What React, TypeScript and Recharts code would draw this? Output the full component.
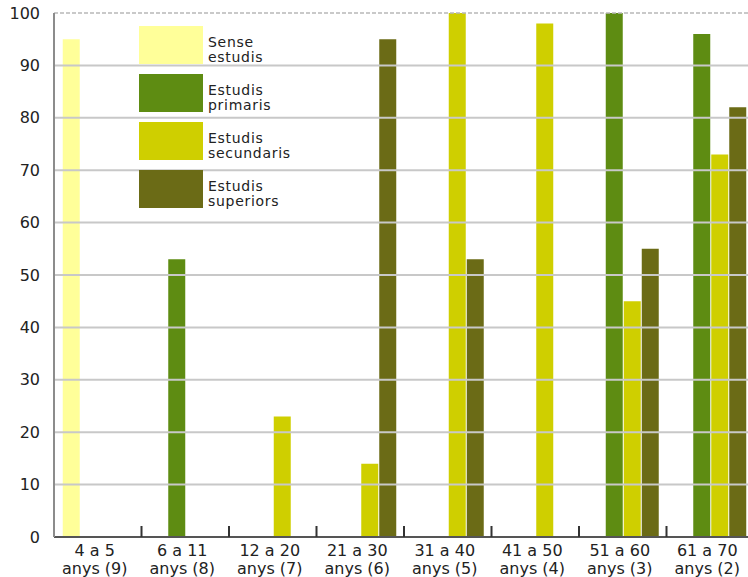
import { Bar, BarChart, ReferenceLine, XAxis, YAxis } from "recharts";

// Age groups along the x axis, with the number of people in each group.
const ageRanges = ["4 a 5", "6 a 11", "12 a 20", "21 a 30", "31 a 40", "41 a 50", "51 a 60", "61 a 70"];
const groupSizes = [9, 8, 7, 6, 5, 4, 3, 2];

// Percentages per level of studies.
const senseEstudis = [95, 0, 0, 0, 0, 0, 0, 0];
const estudisPrimaris = [0, 53, 0, 0, 0, 0, 100, 96];
const estudisSecundaris = [0, 0, 23, 14, 100, 98, 45, 73];
const estudisSuperiors = [0, 0, 0, 95, 53, 0, 55, 82];

const yTicks = [0, 10, 20, 30, 40, 50, 60, 70, 80, 90, 100];

const series = [
  { key: "sense", label: ["Sense", "estudis"], color: "#ffff99" },
  { key: "primaris", label: ["Estudis", "primaris"], color: "#5e8c12" },
  { key: "secundaris", label: ["Estudis", "secundaris"], color: "#cfcf00" },
  { key: "superiors", label: ["Estudis", "superiors"], color: "#6b6b16" },
];

const data = ageRanges.map((range, i) => ({
  name: `${range}\nanys (${groupSizes[i]})`,
  sense: senseEstudis[i],
  primaris: estudisPrimaris[i],
  secundaris: estudisSecundaris[i],
  superiors: estudisSuperiors[i],
}));

const FONT = "'DejaVu Sans', Verdana, sans-serif";
const CHART_W = 756;
const PLOT_W = CHART_W - 54 - 2;
const BAND_HALF = PLOT_W / ageRanges.length / 2;

// Two-line category label plus a small divider tick on the left edge of each band.
// y arrives 2px below the axis line (tickMargin).
function AgeTick({ x, y, payload, index }: any) {
  const [first, second] = String(payload.value).split("\n");
  const half = payload.offset || BAND_HALF;
  return (
    <g>
      {index > 0 && <rect x={x - half - 1} y={y - 13} width={2} height={11} fill="#333" />}
      <text textAnchor="middle" fontFamily={FONT} fontSize={16} fill="#222">
        <tspan x={x - 3} y={y + 17}>{first}</tspan>
        <tspan x={x - 3} y={y + 35}>{second}</tspan>
      </text>
    </g>
  );
}

function LegendBox() {
  return (
    <div style={{ position: "absolute", left: 139, top: 25, fontFamily: FONT }}>
      {series.map((s, i) => (
        <div key={s.key} style={{ display: "flex", alignItems: "center", marginTop: i === 0 ? 0 : 8 }}>
          <div style={{ width: 64, height: 38, background: s.color }} />
          <div
            style={{
              marginLeft: 5,
              marginTop: 10,
              fontSize: 14,
              lineHeight: "15px",
              letterSpacing: 0.7,
              color: "#222",
            }}
          >
            {s.label[0]}
            <br />
            {s.label[1]}
          </div>
        </div>
      ))}
    </div>
  );
}

export default function App() {
  return (
    <div
      style={{
        position: "absolute",
        left: 0,
        top: 0,
        width: 748,
        height: 577,
        overflow: "hidden",
        background: "#fff",
      }}
    >
      <div style={{ position: "relative", width: CHART_W, height: 577 }}>
        <BarChart
          width={CHART_W}
          height={577}
          data={data}
          margin={{ top: 13, right: 2, left: 0, bottom: 0 }}
          barCategoryGap="10%"
          barGap={1}
        >
          {yTicks
            .filter((t) => t > 0)
            .map((t) => (
              <ReferenceLine
                key={t}
                y={t}
                stroke={t === 100 ? "#b8b8b8" : "#c8c8c8"}
                strokeWidth={t === 100 ? 1.5 : 2}
                strokeDasharray={t === 100 ? "4 2" : undefined}
              />
            ))}
          <XAxis
            dataKey="name"
            height={40}
            interval={0}
            tickLine={false}
            tickSize={0}
            tickMargin={2}
            axisLine={{ stroke: "#555", strokeWidth: 2 }}
            tick={<AgeTick />}
          />
          <YAxis
            width={54}
            domain={[0, 100]}
            ticks={yTicks}
            interval={0}
            tickLine={false}
            tickSize={0}
            tickMargin={14}
            axisLine={{ stroke: "#8c8c8c", strokeWidth: 2 }}
            tick={{ fontFamily: FONT, fontSize: 16, fill: "#222" }}
          />
          {series.map((s) => (
            <Bar key={s.key} dataKey={s.key} fill={s.color} isAnimationActive={false} />
          ))}
        </BarChart>
        <LegendBox />
      </div>
    </div>
  );
}
